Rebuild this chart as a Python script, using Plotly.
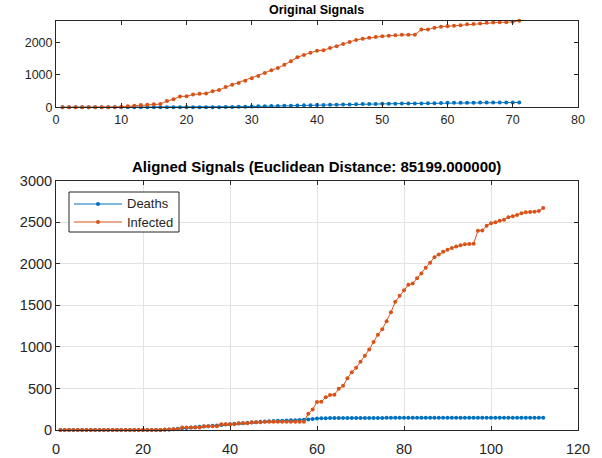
import plotly.graph_objects as go

# ---- data ----
deaths = [0]*24 + [3, 6, 10, 14, 20, 25, 30, 34, 38, 42, 46, 50, 55, 60, 65, 70, 74, 78,
                   82, 86, 90, 94, 98, 101, 104, 107, 110, 112, 114, 116, 118, 120, 122,
                   126, 132, 137, 140, 142, 143, 144, 145, 146, 146, 147, 147, 148, 148]
infected = [0, 0, 0, 0, 0, 0, 0, 0, 5, 10, 30, 45, 70, 80, 92, 100,
            195, 246, 337, 340, 393, 420, 425, 496, 532, 623, 695, 750, 822, 893, 969,
            1060, 1147, 1211, 1310, 1417, 1544, 1616, 1683, 1747, 1763, 1826, 1882,
            1953, 2013, 2080, 2112, 2144, 2168, 2191, 2207, 2223, 2235, 2239, 2241,
            2398, 2402, 2457, 2489, 2501, 2517, 2529, 2561, 2573, 2588, 2608, 2620,
            2622, 2626, 2636, 2672]

# warping path (1-based indices into deaths / infected)
ix = [1, 2, 3, 4, 5, 6, 7, 8, 9, 10, 11, 12, 13, 14, 15, 16, 17, 18, 19, 20,
      21, 22, 23, 24, 25, 26, 27, 28, 29, 30, 31, 32, 33, 34, 35, 36, 37, 38, 39, 40,
      41, 42, 43, 44, 45, 46, 47, 48, 49, 50, 51, 52, 53, 54, 55, 56, 57, 58, 59, 60,
      61, 62, 63, 64, 64, 64, 64, 64, 64, 65, 65, 65, 65, 65, 65, 66, 66, 66, 66, 66,
      66, 67, 67, 67, 67, 67, 67, 68, 68, 68, 68, 68, 68, 69, 69, 69, 69, 69, 69, 70,
      70, 70, 70, 70, 70, 71, 71, 71, 71, 71, 71, 71]
iy = [1, 2, 3, 4, 5, 6, 7, 8, 8, 8, 8, 8, 8, 8, 8, 8, 8, 8, 8, 8,
      8, 8, 8, 8, 9, 9, 10, 10, 11, 11, 11, 11, 11, 12, 12, 12, 12, 13, 13, 13,
      13, 14, 14, 14, 15, 15, 15, 16, 16, 16, 16, 16, 16, 16, 16, 16, 16, 17, 18, 19,
      20, 21, 22, 23, 24, 25, 26, 27, 28, 29, 30, 31, 32, 33, 34, 35, 36, 37, 38, 39,
      40, 41, 42, 43, 44, 45, 46, 47, 48, 49, 50, 51, 52, 53, 54, 55, 56, 57, 58, 59,
      60, 61, 62, 63, 64, 65, 66, 67, 68, 69, 70, 71]

top_title = "Original Signals"
bottom_title = "Aligned Signals (Euclidean Distance: 85199.000000)"
names = ["Deaths", "Infected"]
colors = ["#0072BD", "#D95319"]

aligned_deaths = [deaths[i - 1] for i in ix]
aligned_infected = [infected[i - 1] for i in iy]

fig = go.Figure()
FONT = "Liberation Sans, Arial, Helvetica, sans-serif"
AX = "#262626"
MS = 4
LW = 1

# top subplot
for vals, nm, c in zip([deaths, infected], names, colors):
    fig.add_trace(go.Scatter(
        x=list(range(1, len(vals) + 1)), y=vals, mode="lines+markers", name=nm,
        line=dict(color=c, width=LW), marker=dict(color=c, size=MS),
        xaxis="x", yaxis="y", showlegend=False, cliponaxis=False))

# bottom subplot
for vals, nm, c in zip([aligned_deaths, aligned_infected], names, colors):
    fig.add_trace(go.Scatter(
        x=list(range(1, len(vals) + 1)), y=vals, mode="lines+markers", name=nm,
        line=dict(color=c, width=LW), marker=dict(color=c, size=MS),
        xaxis="x2", yaxis="y2", showlegend=False, cliponaxis=False))

W, H = 602, 458
xd = [56 / W, 578 / W]


def ax(size, **kw):
    d = dict(showline=True, mirror="ticks", linecolor=AX, linewidth=1,
             ticks="inside", tickcolor=AX, ticklen=4, zeroline=False,
             automargin=False, tickfont=dict(family=FONT, color=AX, size=size))
    d.update(kw)
    return d


def px(x):
    return x / W


def py(y):
    return 1 - y / H


# legend drawn in the MATLAB style (box, line with dot, label)
shapes = [dict(type="rect", xref="paper", yref="paper", x0=px(69), x1=px(179),
               y0=py(232), y1=py(192), line=dict(color=AX, width=1),
               fillcolor="white", layer="above")]
annotations = []
for k, (nm, c) in enumerate(zip(names, colors)):
    yy = 204 + 18 * k
    shapes.append(dict(type="line", xref="paper", yref="paper", x0=px(74), x1=px(122),
                       y0=py(yy), y1=py(yy), line=dict(color=c, width=LW), layer="above"))
    shapes.append(dict(type="circle", xref="paper", yref="paper",
                       x0=px(96), x1=px(100), y0=py(yy + 2), y1=py(yy - 2),
                       line=dict(color=c, width=0), fillcolor=c, layer="above"))
    annotations.append(dict(text=nm, x=px(125), y=py(yy), xref="paper", yref="paper",
                            showarrow=False, xanchor="left", yanchor="middle",
                            font=dict(family=FONT, size=13, color=AX)))

annotations += [
    dict(text="<b>" + top_title + "</b>", x=0.5 * (xd[0] + xd[1]), y=py(10),
         xref="paper", yref="paper", showarrow=False, xanchor="center",
         yanchor="middle", font=dict(family=FONT, size=12.5, color="black")),
    dict(text="<b>" + bottom_title + "</b>", x=0.5 * (xd[0] + xd[1]), y=py(166),
         xref="paper", yref="paper", showarrow=False, xanchor="center",
         yanchor="middle", font=dict(family=FONT, size=15, color="black")),
]

fig.update_layout(
    width=W, height=H, margin=dict(l=0, r=0, t=0, b=0, pad=0),
    paper_bgcolor="white", plot_bgcolor="white",
    font=dict(family=FONT, color=AX),
    showlegend=False,
    xaxis=ax(12.5, domain=xd, anchor="y", range=[0, 80], dtick=10, showgrid=False,
             ticklabelstandoff=1),
    yaxis=ax(12.5, domain=[py(107.3), py(20.7)], anchor="x",
             range=[0, max(infected)], tickvals=[0, 1000, 2000], showgrid=False),
    xaxis2=ax(14.5, domain=xd, anchor="y2", range=[0, 120], dtick=20, showgrid=True,
              gridcolor="#e3e3e3", gridwidth=1, ticklabelstandoff=6),
    yaxis2=ax(14.5, domain=[py(430), py(180.7)], anchor="x2",
              range=[0, 3000], dtick=500, showgrid=True,
              gridcolor="#e3e3e3", gridwidth=1),
    shapes=shapes,
    annotations=annotations,
)

fig.write_html("out.html")
